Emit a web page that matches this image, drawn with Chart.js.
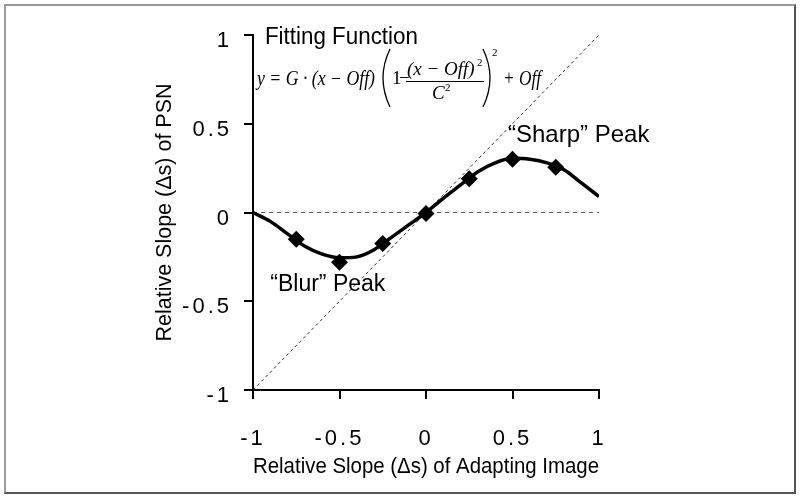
<!DOCTYPE html>
<html>
<head>
<meta charset="utf-8">
<title>Relative slope of PSN</title>
<script src="https://cdn.jsdelivr.net/npm/chart.js@4.4.0/dist/chart.umd.min.js"></script>
<style>
  html, body { margin: 0; padding: 0; background: #fff; }
  #wrap { position: relative; width: 800px; height: 498px; }
  #frame {
    position: absolute; left: 4px; top: 4px; width: 792px; height: 490px;
    box-sizing: border-box; pointer-events: none;
    border-top: 2px solid #9a9a9a; border-left: 2px solid #9a9a9a;
    border-right: 2px solid #555; border-bottom: 2px solid #555;
  }
  canvas { position: absolute; left: 0; top: 0; }
</style>
</head>
<body>
<div id="wrap">
  <canvas id="psnChart" width="800" height="498"></canvas>
  <div id="frame"></div>
</div>
<script>
// fitted curve
const curveX = [-1, -0.9, -0.8, -0.7, -0.6, -0.5, -0.4, -0.3, -0.2, -0.1, 0, 0.1, 0.2, 0.3, 0.4, 0.5, 0.6, 0.7, 0.8, 0.9, 1]
const curveY = [0, -0.05, -0.12, -0.19, -0.235, -0.255, -0.25, -0.21, -0.14, -0.07, 0, 0.08, 0.155, 0.23, 0.28, 0.305, 0.30, 0.28, 0.24, 0.165, 0.09]

// measured points (diamonds)
const pointX = [-0.75, -0.5, -0.25, 0, 0.25, 0.5, 0.75]
const pointY = [-0.15, -0.28, -0.175, -0.005, 0.19, 0.30, 0.255]

// reference lines
const identityX = [-1, 1]
const identityY = [-1, 1]
const zeroX = [-1, 1]
const zeroY = [0, 0]

// axes
const tickValues = [-1, -0.5, 0, 0.5, 1]
const tickLabels = ['-1', '-0.5', '0', '0.5', '1']
const xTitle = 'Relative Slope (\u0394s) of Adapting Image'
const yTitle = 'Relative Slope (\u0394s) of PSN'

const toPoints = (xs, ys) => xs.map((x, i) => ({ x: x, y: ys[i] }))

const sansFont = '"Liberation Sans", Arial, sans-serif'
const serifFont = '"Liberation Serif", "Times New Roman", serif'

// tall thin bracket for the formula
function bracket(ctx, x, top, bottom, dir) {
  const mid = (top + bottom) / 2
  ctx.beginPath()
  ctx.moveTo(x, top)
  ctx.quadraticCurveTo(x - dir * 14, mid, x, bottom)
  ctx.stroke()
}

// text annotations and the fitting formula
const notesPlugin = {
  id: 'notes',
  afterDatasetsDraw(chart) {
    const { ctx, scales } = chart
    const px = (v) => scales.x.getPixelForValue(v)
    const py = (v) => scales.y.getPixelForValue(v)
    ctx.save()
    ctx.fillStyle = '#000'
    ctx.strokeStyle = '#000'
    ctx.textAlign = 'left'
    ctx.textBaseline = 'middle'

    ctx.font = '23px ' + sansFont
    ctx.fillText('Fitting Function', px(-0.931), py(0.986), 153)
    ctx.fillText('\u201CBlur\u201D Peak', px(-0.90), py(-0.407), 118)
    ctx.font = '24px ' + sansFont
    ctx.fillText('\u201CSharp\u201D Peak', px(0.474), py(0.435), 149)

    // y = G·(x − Off)(1 − (x − Off)²/C²)² + Off
    ctx.font = 'italic 20px ' + serifFont
    ctx.fillText('y = G \u00B7 (x \u2212 Off)', 257, 80, 118)
    ctx.lineWidth = 1.3
    bracket(ctx, 390, 49, 107, 1)
    bracket(ctx, 483, 49, 107, -1)
    ctx.font = '19px ' + serifFont
    ctx.fillText('1', 392, 79)
    ctx.fillText('\u2212', 399, 79)
    ctx.font = 'italic 19px ' + serifFont
    ctx.fillText('(x \u2212 Off)', 407, 70, 70)
    ctx.fillText('C', 432, 94)
    ctx.font = '11px ' + serifFont
    ctx.fillText('2', 477, 63)
    ctx.fillText('2', 445, 88)
    ctx.fillText('2', 492, 53)
    ctx.font = 'italic 20px ' + serifFont
    ctx.fillText('+ Off', 503, 80, 38)
    ctx.beginPath()
    ctx.lineWidth = 1
    ctx.moveTo(406, 81.5)
    ctx.lineTo(484, 81.5)
    ctx.stroke()
    ctx.restore()
    // tick labels are drawn after the datasets, with the wide spacing of the figure
    ctx.letterSpacing = '3px'
  },
  afterDraw(chart) {
    chart.ctx.letterSpacing = '0px'
  }
}

new Chart(document.getElementById('psnChart'), {
  type: 'scatter',
  data: {
    datasets: [
      {
        label: 'Measured',
        data: toPoints(pointX, pointY),
        pointStyle: 'rectRot',
        pointRadius: 8.5,
        pointBackgroundColor: '#000',
        pointBorderColor: '#000',
        pointBorderWidth: 0,
        showLine: false,
      },
      {
        label: 'Fit',
        data: toPoints(curveX, curveY),
        showLine: true,
        borderColor: '#000',
        borderWidth: 3.5,
        pointRadius: 0,
        cubicInterpolationMode: 'monotone',
      },
      {
        label: 'y = x',
        data: toPoints(identityX, identityY),
        showLine: true,
        borderColor: '#333',
        borderWidth: 1,
        borderDash: [3, 3],
        pointRadius: 0,
      },
      {
        label: 'y = 0',
        data: toPoints(zeroX, zeroY),
        showLine: true,
        borderColor: '#555',
        borderWidth: 1,
        borderDash: [4, 4],
        pointRadius: 0,
      },
    ],
  },
  options: {
    responsive: false,
    animation: false,
    layout: { padding: { left: 152, right: 201, top: 35, bottom: 18 } },
    plugins: {
      legend: { display: false },
      tooltip: { enabled: false },
    },
    scales: {
      x: {
        type: 'linear',
        min: -1,
        max: 1,
        afterBuildTicks: (s) => { s.ticks = tickValues.map((v) => ({ value: v })) },
        afterFit: (s) => { s.height = 90 },
        ticks: {
          callback: (v, i) => tickLabels[i],
          font: { family: sansFont, size: 22 },
          color: '#000',
          padding: 27,
          maxRotation: 0,
          z: 1,
        },
        grid: { drawOnChartArea: false, drawTicks: true, tickLength: 9, color: '#000', lineWidth: 2 },
        border: { display: true, color: '#000', width: 2 },
        title: { display: true, text: xTitle, font: { family: sansFont, size: 22 }, color: '#000', padding: 0 },
      },
      y: {
        type: 'linear',
        min: -1,
        max: 1,
        afterBuildTicks: (s) => { s.ticks = tickValues.map((v) => ({ value: v })) },
        afterFit: (s) => { s.width = 101 },
        ticks: {
          callback: (v, i) => tickLabels[i],
          font: { family: sansFont, size: 22 },
          color: '#000',
          padding: 12,
          labelOffset: 6,
          z: 1,
        },
        grid: { drawOnChartArea: false, drawTicks: true, tickLength: 9, color: '#000', lineWidth: 2 },
        border: { display: true, color: '#000', width: 2 },
        title: { display: true, text: yTitle, font: { family: sansFont, size: 21.5 }, color: '#000', padding: 0 },
      },
    },
  },
  plugins: [notesPlugin],
})
</script>
</body>
</html>
